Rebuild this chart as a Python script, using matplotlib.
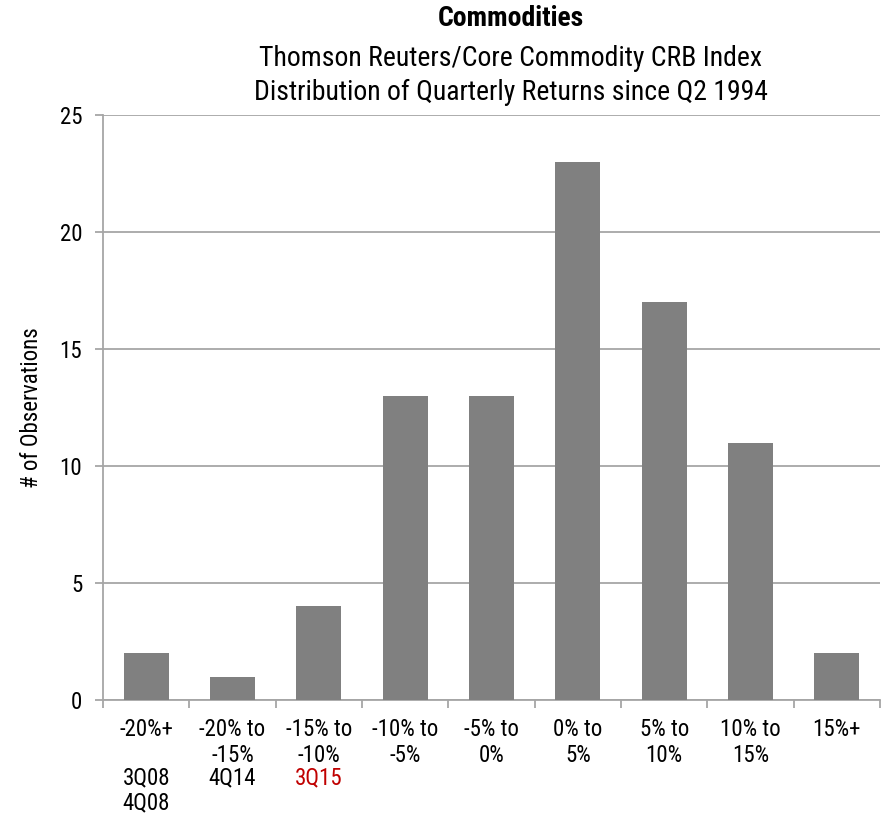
import matplotlib
matplotlib.use("Agg")
import matplotlib.pyplot as plt
import matplotlib.transforms as mtransforms
import numpy as np

plt.rcParams['font.family'] = ['Roboto Condensed', 'Liberation Sans Narrow', 'DejaVu Sans']
plt.rcParams['font.stretch'] = 'condensed'

# data
categories = ["-20%+", "-20% to\n-15%", "-15% to\n-10%", "-10% to\n-5%", "-5% to\n0%",
              "0% to\n5%", "5% to\n10%", "10% to\n15%", "15%+"]
observations = [2, 1, 4, 13, 13, 23, 17, 11, 2]
# quarters noted under the first buckets
notes = [["3Q08", "4Q08"], ["4Q14"], ["3Q15"]]
note_colors = [["black", "black"], ["black"], ["#c00000"]]

fig = plt.figure(figsize=(8.81, 8.39), dpi=100)
ax = fig.add_axes([103/881, 1 - 700/839, 777/881, 585/839])

x = np.arange(len(categories))
ax.bar(x, observations, width=0.52, color="#808080", zorder=3)

ax.set_xlim(-0.5, len(categories) - 0.5)
ax.set_ylim(0, 25)
ax.set_yticks(range(0, 26, 5))
ax.yaxis.grid(True, color="#a6a6a6", linewidth=1.3, zorder=0)

ax.set_xticks(x)
ax.set_xticklabels(categories, fontsize=16.5, linespacing=1.15)
ax.set_xticks(np.arange(-0.5, len(categories), 1), minor=True)
ax.tick_params(axis="x", which="major", length=0, pad=13)
ax.tick_params(axis="x", which="minor", length=6, width=1.3, color="#a6a6a6")
ax.tick_params(axis="y", length=6, width=1.3, color="#a6a6a6", labelsize=16.5, pad=9)

for side in ["top", "right"]:
    ax.spines[side].set_visible(False)
for side in ["left", "bottom"]:
    ax.spines[side].set_color("#a6a6a6")
    ax.spines[side].set_linewidth(1.3)

ax.set_ylabel("# of Observations", fontsize=16.5, labelpad=12)

trans = mtransforms.blended_transform_factory(ax.transData, ax.transAxes)
for i, (lines, cols) in enumerate(zip(notes, note_colors)):
    for j, (txt, c) in enumerate(zip(lines, cols)):
        ax.text(i, -0.1335 - j * 0.043, txt, transform=trans, ha="center", va="center",
                fontsize=16.5, color=c)

fig.text(511/881, 1 - 18/839, "Commodities", ha="center", va="center",
         fontsize=20, fontweight="bold")
fig.text(511/881, 1 - 59/839, "Thomson Reuters/Core Commodity CRB Index",
         ha="center", va="center", fontsize=20)
fig.text(511/881, 1 - 92/839, "Distribution of Quarterly Returns since Q2 1994",
         ha="center", va="center", fontsize=20)

fig.savefig("out.png", dpi=100)
